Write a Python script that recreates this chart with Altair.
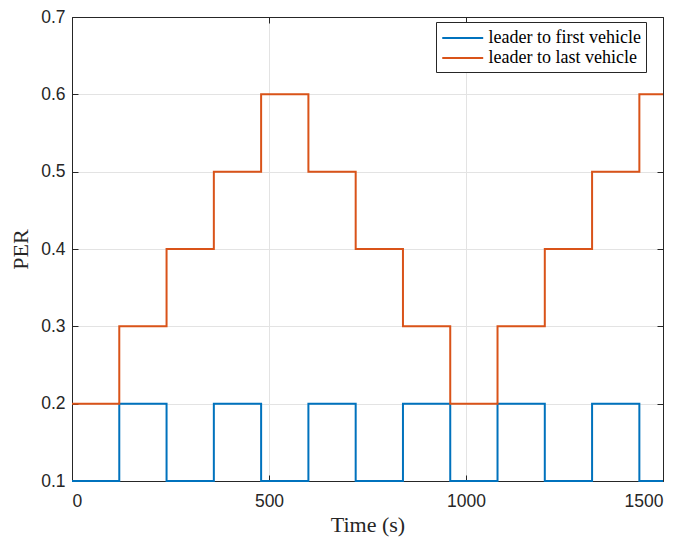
import altair as alt
import pandas as pd

# ---- data ----
times = [0, 120, 240, 360, 480, 600, 720, 840, 960, 1080, 1200, 1320, 1440, 1500]
first_vehicle = [0.1, 0.2, 0.1, 0.2, 0.1, 0.2, 0.1, 0.2, 0.1, 0.2, 0.1, 0.2, 0.1, 0.1]
last_vehicle = [0.2, 0.3, 0.4, 0.5, 0.6, 0.5, 0.4, 0.3, 0.2, 0.3, 0.4, 0.5, 0.6, 0.6]
series_names = ["leader to first vehicle", "leader to last vehicle"]
series_colors = ["#0072BD", "#D95319"]
x_ticks = [0, 500, 1000, 1500]
y_ticks = [0.1, 0.2, 0.3, 0.4, 0.5, 0.6, 0.7]

rows = []
for t, v in zip(times, first_vehicle):
    rows.append({"time": t, "per": v, "series": series_names[0]})
for t, v in zip(times, last_vehicle):
    rows.append({"time": t, "per": v, "series": series_names[1]})
df = pd.DataFrame(rows)

W, H = 591, 464
PAD = {"left": 64, "top": 9, "right": 20, "bottom": 57}
AXC = "#262626"
SANS = "Liberation Sans"
SERIF = "Liberation Serif"

xscale = alt.Scale(domain=[0, 1500], nice=False, zero=False)
yscale = alt.Scale(domain=[0.1, 0.7], nice=False, zero=False)

base = alt.Chart(df)

lines = base.mark_line(interpolate="step-after", strokeWidth=2).encode(
    x=alt.X("time:Q", scale=xscale, axis=alt.Axis(
        orient="bottom", values=x_ticks, format="d", ticks=False, tickSize=0, grid=True,
        gridColor="#e3e3e3", gridWidth=1, domain=True, domainColor=AXC, domainWidth=1,
        labelFont=SANS, labelFontSize=17.5, labelColor=AXC, labelPadding=11,
        title="Time (s)", titleFont=SERIF, titleFontSize=22, titleFontWeight="normal",
        titleColor=AXC, titleBaseline="middle", titleAlign="center",
        titleX=W / 2, titleY=43)),
    y=alt.Y("per:Q", scale=yscale, axis=alt.Axis(
        orient="left", values=y_ticks, format=".1f", ticks=False, tickSize=0, grid=True,
        gridColor="#e3e3e3", gridWidth=1, domain=True, domainColor=AXC, domainWidth=1,
        labelFont=SANS, labelFontSize=17.5, labelColor=AXC, labelPadding=7,
        title="PER", titleFont=SERIF, titleFontSize=22, titleFontWeight="normal",
        titleColor=AXC, titleBaseline="middle", titleAlign="center", titleAngle=270,
        titleX=-52, titleY=H / 2)),
    color=alt.Color("series:N", scale=alt.Scale(domain=series_names, range=series_colors),
                    legend=alt.Legend(
                        orient="none", legendX=364, legendY=5, title=None,
                        symbolType="M-1,0H3.2", symbolSize=380, symbolStrokeWidth=2,
                        labelFont=SERIF, labelFontSize=18, labelColor="black",
                        labelLimit=400, labelOffset=25.5, padding=5, rowPadding=0,
                        strokeColor=AXC, fillColor="white")),
)


def tick_layer(xaxis, yaxis):
    return base.mark_point(opacity=0, size=1).encode(
        x=alt.X("time:Q", scale=xscale, axis=xaxis),
        y=alt.Y("per:Q", scale=yscale, axis=yaxis),
    )


common = dict(labels=False, grid=False, title=None, tickColor=AXC, tickSize=6,
              tickWidth=1, domainColor=AXC, domainWidth=1)

# top border with ticks pointing down
top_ticks = tick_layer(alt.Axis(orient="bottom", offset=-H, values=x_ticks, domain=True, **common), None)
# bottom ticks pointing up
bottom_ticks = tick_layer(alt.Axis(orient="top", offset=-H, values=x_ticks, domain=False, **common), None)
# left ticks pointing right
left_ticks = tick_layer(None, alt.Axis(orient="right", offset=-W, values=y_ticks, domain=False, **common))
# right border with ticks pointing left
right_ticks = tick_layer(None, alt.Axis(orient="left", offset=-W, values=y_ticks, domain=True, **common))

chart = alt.layer(top_ticks, bottom_ticks, left_ticks, right_ticks, lines).resolve_axis(
    x="independent", y="independent"
).properties(
    width=W, height=H, autosize="none", padding=PAD, background="white",
).configure_view(stroke=None)

chart.save("out.html", embed_options={"renderer": "svg", "actions": False})
